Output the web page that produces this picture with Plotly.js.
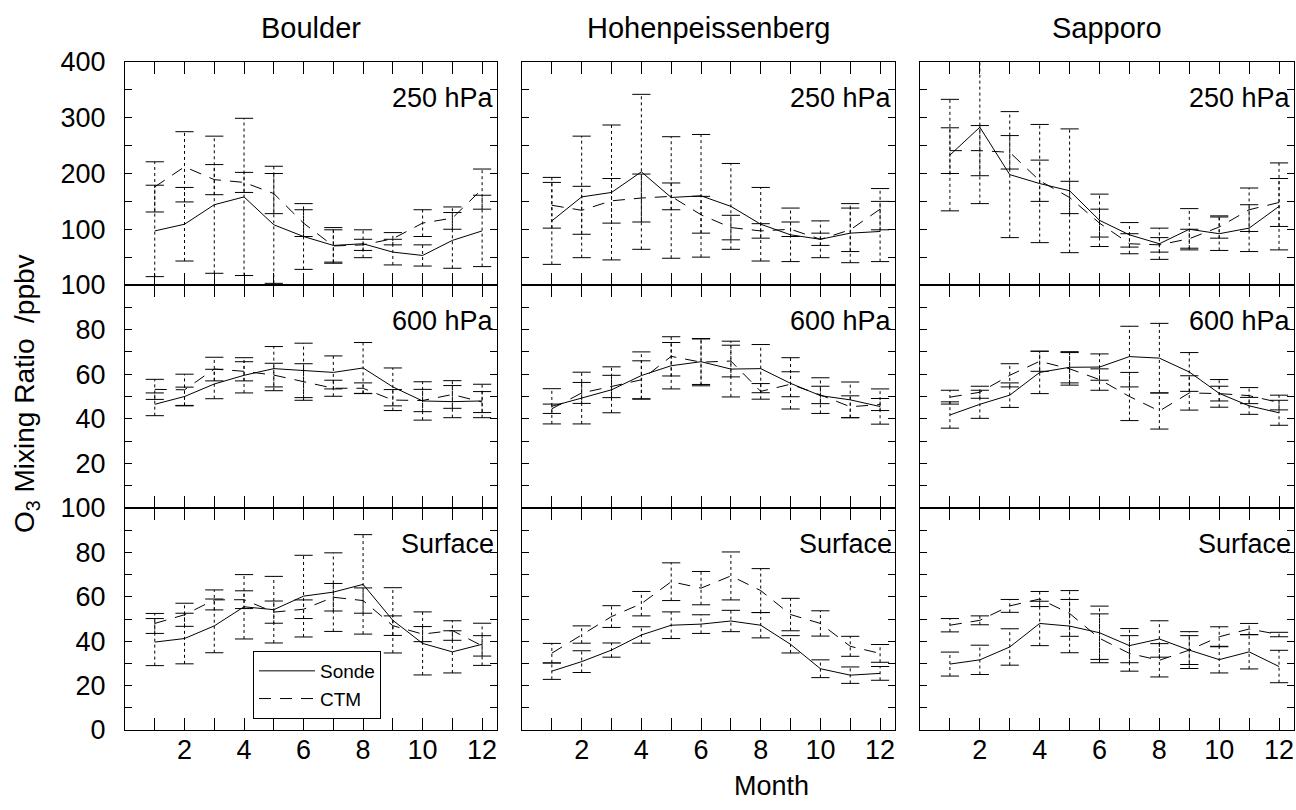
<!DOCTYPE html>
<html>
<head>
<meta charset="utf-8">
<script src="https://cdn.plot.ly/plotly-3.0.1.min.js"></script>
<style>
  html, body { margin: 0; padding: 0; background: #fff; }
  #chart { width: 1296px; height: 810px; }
</style>
</head>
<body>
<div id="chart"></div>
<script>
// ---------- data ----------
const months = [1, 2, 3, 4, 5, 6, 7, 8, 9, 10, 11, 12];
const stations = ['Boulder', 'Hohenpeissenberg', 'Sapporo'];
const levels = ['250 hPa', '600 hPa', 'Surface'];
const seriesNames = ['Sonde', 'CTM'];

// Boulder
const boulder250Sonde    = [97, 109, 144, 158, 108, 87, 71, 74, 59, 53, 80, 97];
const boulder250SondeErr = [82, 66, 123, 141, 105, 59, 32, 25, 23, 19, 50, 64];
const boulder250Ctm      = [176, 212, 189, 184, 164, 111, 70, 72, 83, 111, 120, 172];
const boulder250CtmErr   = [45, 63, 27, 18, 36, 24, 29, 10, 11, 24, 20, 36];

const boulder600Sonde    = [46.5, 50, 55.6, 59.5, 62.5, 61.7, 60.8, 62.8, 54.3, 48, 47.7, 48];
const boulder600SondeErr = [5.1, 4.2, 6.6, 7.9, 9.9, 12.2, 7.4, 11.4, 8.5, 8.6, 7.2, 7.5];
const boulder600Ctm      = [53.2, 53, 62.3, 61.3, 59.6, 56.5, 53.7, 53.7, 48.4, 48.2, 50.9, 47.5];
const boulder600CtmErr   = [4.5, 7, 5.3, 4.3, 5.3, 8.2, 3.6, 2.4, 4.7, 5, 6.2, 4.7];

const boulderSfcSonde    = [39.6, 41.2, 46.9, 55.5, 54.2, 60.3, 62.1, 65.6, 49.4, 39, 35.2, 38.6];
const boulderSfcSondeErr = [10.6, 11.4, 12.1, 14.5, 15, 18.4, 17.7, 22.4, 14.7, 14.2, 9.5, 9.5];
const boulderSfcCtm      = [48, 51.9, 58.6, 58.7, 53.1, 54.4, 59.8, 58.3, 47, 43.2, 44.8, 37.9];
const boulderSfcCtmErr   = [4.5, 5.2, 4.5, 4, 5, 4.2, 6.2, 5.7, 4.4, 3.4, 4.4, 4.6];

// Hohenpeissenberg
const hohen250Sonde    = [115, 158, 166, 203, 157, 160, 141, 109, 90, 82, 93, 96];
const hohen250SondeErr = [78, 109, 121, 139, 109, 110, 77, 66, 48, 33, 53, 54];
const hohen250Ctm      = [143, 134, 151, 156, 159, 126, 103, 97, 100, 82, 99, 136];
const hohen250CtmErr   = [41, 43, 40, 43, 24, 33, 22, 13, 13, 11, 39, 37];

const hohen600Sonde    = [45.6, 49.3, 53, 59.4, 63.8, 65.6, 62.3, 62.5, 55.9, 50.4, 48.5, 45.5];
const hohen600SondeErr = [7.9, 11.6, 10.3, 10.6, 10.4, 10.2, 12.5, 10.8, 11.5, 8, 8, 7.9];
const hohen600Ctm      = [44.5, 51.6, 54.5, 57.5, 68, 65.4, 65.9, 52.3, 55.5, 50.7, 45.4, 46.4];
const hohen600CtmErr   = [2.1, 4.7, 5, 8.5, 8.8, 10.6, 7.1, 3.5, 5.6, 3.9, 4.9, 2.7];

const hohenSfcSonde    = [26.5, 30.8, 36, 42.8, 47.2, 47.7, 49.1, 47.2, 38.6, 27.6, 24.7, 25.5];
const hohenSfcSondeErr = [3.7, 4.9, 3.2, 3.7, 6, 4.2, 4.8, 5.7, 3.9, 4, 3.7, 3.1];
const hohenSfcCtm      = [34.6, 43, 51.1, 56.9, 66.8, 63.9, 69.4, 62.8, 52, 48, 37.7, 34.5];
const hohenSfcCtmErr   = [4.4, 3.9, 4.9, 5.5, 8.5, 7.5, 10.8, 9.9, 7.3, 5.7, 4.5, 4];

// Sapporo
const sapporo250Sonde    = [233, 283, 198, 182, 169, 116, 90, 74, 100, 92, 102, 141];
const sapporo250SondeErr = [100, 137, 113, 106, 111, 47, 22, 28, 37, 30, 42, 78];
const sapporo250Ctm      = [241, 241, 238, 187, 157, 111, 74, 72, 83, 104, 135, 148];
const sapporo250CtmErr   = [41, 45, 30, 37, 29, 25, 18, 13, 17, 20, 39, 43];

const sapporo600Sonde    = [41.7, 46.5, 50.6, 60.8, 63.1, 63.2, 67.9, 67.2, 61, 51.4, 45.8, 42.7];
const sapporo600SondeErr = [5.9, 6.3, 5.5, 9.5, 7, 5.9, 13.6, 15.6, 8.7, 6.2, 3.8, 5.6];
const sapporo600Ctm      = [49.7, 51.9, 59.5, 65.8, 62.4, 57.6, 50, 43.5, 51.6, 51.3, 50.4, 47.3];
const sapporo600CtmErr   = [3.1, 2.7, 5.2, 4.5, 7.3, 4.8, 10.8, 8.1, 7.7, 3.3, 3.6, 3.3];

const sapporoSfcSonde    = [29.7, 31.6, 37.4, 48, 46.8, 43.8, 38, 41, 36, 31.7, 35.2, 28.6];
const sapporoSfcSondeErr = [5.4, 6.6, 8.2, 10, 12, 12, 7.7, 8.2, 8.3, 6, 7.7, 7.3];
const sapporoSfcCtm      = [47.2, 49.4, 55.9, 59, 52.5, 41.3, 34.5, 31.4, 36, 42, 45.5, 43];
const sapporoSfcCtmErr   = [3, 2, 2.9, 3.4, 10.3, 11, 8, 7.5, 6.5, 4.5, 2.5, 1];

// tick labels
const xTickText = ['', '2', '', '4', '', '6', '', '8', '', '10', '', '12'];
const yTopVals = [0, 50, 100, 150, 200, 250, 300, 350, 400];
const yTopText = ['', '', '100', '', '200', '', '300', '', '400'];
const yMidVals = [0, 10, 20, 30, 40, 50, 60, 70, 80, 90, 100];
const yMidText = ['', '', '20', '', '40', '', '60', '', '80', '', '100'];
const yBotText = ['0', '', '20', '', '40', '', '60', '', '80', '', '100'];

// panels[row][col] = [sonde, sondeErr, ctm, ctmErr]
const panels = [
  [[boulder250Sonde, boulder250SondeErr, boulder250Ctm, boulder250CtmErr],
   [hohen250Sonde, hohen250SondeErr, hohen250Ctm, hohen250CtmErr],
   [sapporo250Sonde, sapporo250SondeErr, sapporo250Ctm, sapporo250CtmErr]],
  [[boulder600Sonde, boulder600SondeErr, boulder600Ctm, boulder600CtmErr],
   [hohen600Sonde, hohen600SondeErr, hohen600Ctm, hohen600CtmErr],
   [sapporo600Sonde, sapporo600SondeErr, sapporo600Ctm, sapporo600CtmErr]],
  [[boulderSfcSonde, boulderSfcSondeErr, boulderSfcCtm, boulderSfcCtmErr],
   [hohenSfcSonde, hohenSfcSondeErr, hohenSfcCtm, hohenSfcCtmErr],
   [sapporoSfcSonde, sapporoSfcSondeErr, sapporoSfcCtm, sapporoSfcCtmErr]]
];

// ---------- layout geometry ----------
const W = 1296, H = 810;
const M = { l: 125, r: 2, t: 62, b: 80 };
const PW = W - M.l - M.r, PH = H - M.t - M.b;
const colPx = [[125, 497], [522, 895], [920, 1294]];
const rowPx = [[62, 285], [285, 508], [508, 730]];
const px2x = p => (p - M.l) / PW;
const px2y = p => (H - M.b - p) / PH;

const FONT = 'Liberation Sans, Arial, Helvetica, sans-serif';
const BLACK = '#000';
const TICK_SIZE = 27;
const lineDash = { Sonde: 'solid', CTM: '12px,9px' };

const traces = [];
const layout = {
  width: W, height: H,
  margin: M,
  paper_bgcolor: '#fff', plot_bgcolor: '#fff',
  font: { family: FONT, size: TICK_SIZE, color: BLACK },
  showlegend: true,
  legend: {
    x: px2x(253), y: px2y(651), xanchor: 'left', yanchor: 'top',
    bordercolor: BLACK, borderwidth: 1, bgcolor: '#fff',
    font: { family: FONT, size: 19, color: BLACK },
    tracegroupgap: 0, itemwidth: 56
  },
  annotations: []
};

for (let r = 0; r < 3; r++) {
  for (let c = 0; c < 3; c++) {
    const n = r * 3 + c + 1;
    const xs = n === 1 ? '' : String(n);
    const xa = 'x' + xs, ya = 'y' + xs;
    const [sonde, sondeErr, ctm, ctmErr] = panels[r][c];

    layout['xaxis' + xs] = {
      domain: [px2x(colPx[c][0]), px2x(colPx[c][1])],
      anchor: ya, range: [0, 12.5],
      tickmode: 'array', tickvals: months, ticktext: xTickText,
      showticklabels: r === 2,
      ticklabelstandoff: -4,
      ticks: 'inside', ticklen: 12, tickwidth: 1, tickcolor: BLACK,
      showline: true, linecolor: BLACK, linewidth: 1, mirror: 'allticks',
      showgrid: false, zeroline: false, fixedrange: true,
      tickfont: { family: FONT, size: TICK_SIZE, color: BLACK }
    };
    layout['yaxis' + xs] = {
      domain: [px2y(rowPx[r][1]), px2y(rowPx[r][0])],
      anchor: xa, range: r === 0 ? [0, 400] : [0, 100],
      tickmode: 'array',
      tickvals: r === 0 ? yTopVals : yMidVals,
      ticktext: r === 0 ? yTopText : (r === 1 ? yMidText : yBotText),
      showticklabels: c === 0,
      ticklabelstandoff: 13,
      ticks: 'inside', ticklen: 7, tickwidth: 1, tickcolor: BLACK,
      showline: true, linecolor: BLACK, linewidth: 1, mirror: 'allticks',
      showgrid: false, zeroline: false, fixedrange: true,
      tickfont: { family: FONT, size: TICK_SIZE, color: BLACK }
    };

    const series = [[seriesNames[0], sonde, sondeErr], [seriesNames[1], ctm, ctmErr]];
    series.forEach(([name, vals, errs]) => {
      const lo = vals.map((v, i) => v - errs[i]);
      const hi = vals.map((v, i) => v + errs[i]);
      // error bar stems (dotted)
      traces.push({
        type: 'scatter', mode: 'lines', xaxis: xa, yaxis: ya,
        x: months.flatMap(m => [m, m, null]),
        y: months.flatMap((m, i) => [lo[i], hi[i], null]),
        line: { color: BLACK, width: 1, dash: '3px,3px' },
        showlegend: false, hoverinfo: 'skip'
      });
      // error bar caps
      traces.push({
        type: 'scatter', mode: 'markers', xaxis: xa, yaxis: ya,
        x: months.concat(months), y: lo.concat(hi),
        marker: { symbol: 'line-ew', size: 13, color: BLACK, line: { color: BLACK, width: 1 } },
        showlegend: false, hoverinfo: 'skip'
      });
      // mean line
      traces.push({
        type: 'scatter', mode: 'lines', xaxis: xa, yaxis: ya,
        x: months, y: vals, name: name,
        line: { color: BLACK, width: 1, dash: lineDash[name] },
        showlegend: n === 1, legendgroup: name
      });
    });

    // level label
    layout.annotations.push({
      xref: xa + ' domain', yref: ya + ' domain',
      x: 1, y: 1 - 36 / 223, xanchor: 'right', yanchor: 'middle',
      xshift: -1, showarrow: false, text: levels[r],
      font: { family: FONT, size: 27, color: BLACK }
    });
  }
}

// station titles
stations.forEach((s, c) => {
  layout.annotations.push({
    xref: 'paper', yref: 'paper',
    x: px2x((colPx[c][0] + colPx[c][1]) / 2), y: px2y(28),
    xanchor: 'center', yanchor: 'middle', showarrow: false, text: s,
    font: { family: FONT, size: 29, color: BLACK }
  });
});
// x title
layout.annotations.push({
  xref: 'paper', yref: 'paper', x: px2x(771), y: px2y(786),
  xanchor: 'center', yanchor: 'middle', showarrow: false, text: 'Month',
  font: { family: FONT, size: 27, color: BLACK }
});
// y title
layout.annotations.push({
  xref: 'paper', yref: 'paper', x: px2x(26), y: px2y(394),
  xanchor: 'center', yanchor: 'middle', showarrow: false, textangle: -90,
  text: 'O<sub>3</sub> Mixing Ratio\u00a0 /ppbv',
  font: { family: FONT, size: 28, color: BLACK }
});

Plotly.newPlot('chart', traces, layout, { staticPlot: true, displayModeBar: false });
</script>
</body>
</html>
